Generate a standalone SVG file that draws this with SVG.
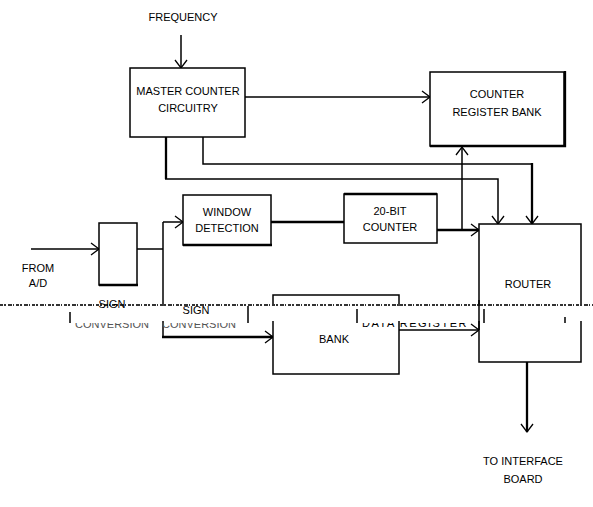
<svg xmlns="http://www.w3.org/2000/svg" width="593" height="507" viewBox="0 0 593 507">
<style>
.box{fill:#fff;stroke:#000;stroke-width:1.5}
.t{font-family:"Liberation Sans",Arial,sans-serif;font-size:11px;fill:#000;text-anchor:middle}
.c{fill:none;stroke:#000;stroke-width:1.5}
.k{fill:none;stroke:#000;stroke-width:2.3}
.g{font-family:"Liberation Sans",Arial,sans-serif;font-size:11px;fill:#555;text-anchor:middle}
</style>
<defs>
<marker id="a" markerUnits="userSpaceOnUse" markerWidth="14" markerHeight="14" refX="11" refY="7" orient="auto" viewBox="0 0 14 14">
<path d="M3,1 L11,7 L3,13" fill="none" stroke="#000" stroke-width="1.3"/>
</marker>
<clipPath id="lo"><rect x="0" y="323" width="593" height="20"/></clipPath>
</defs>
<rect width="593" height="507" fill="#fff"/>
<text class="t" x="183" y="21">FREQUENCY</text>
<g id="connectors">
<path class="c" d="M181,35 V68" marker-end="url(#a)"/>
<path class="c" d="M245,97 H430" marker-end="url(#a)"/>
<path class="c" d="M203,137 V164 H532"/>
<path class="k" d="M532,163 V224" marker-end="url(#a)"/>
<path class="k" d="M166,137 V179"/>
<path class="c" d="M165,179 H498 V224" marker-end="url(#a)"/>
<path class="c" d="M31,249 H99" marker-end="url(#a)"/>
<path class="c" d="M137,249 H163"/>
<path class="c" d="M163,222 V337"/>
<path class="c" d="M163,222 H183" marker-end="url(#a)"/>
<path class="k" d="M162,337 H273" marker-end="url(#a)"/>
<path class="k" d="M271,222 H344"/>
<path class="k" d="M437,230 H479" marker-end="url(#a)"/>
<path class="c" d="M462,230 V147" marker-end="url(#a)"/>
<path class="c" d="M399,330 H479" marker-end="url(#a)"/>
<path class="k" d="M527,362 V432" marker-end="url(#a)"/>
</g>
<g id="master">
<rect class="box" x="130" y="68" width="115" height="69"/>
<text class="t" x="188" y="95">MASTER COUNTER</text>
<text class="t" x="188" y="112">CIRCUITRY</text>
</g>
<g id="crb">
<rect class="box" x="430" y="72" width="134" height="74"/>
<path class="k" d="M430,146 H565 V71"/>
<text class="t" x="497" y="98">COUNTER</text>
<text class="t" x="497" y="116">REGISTER BANK</text>
</g>
<g id="window">
<rect class="box" x="183" y="195" width="88" height="50"/>
<path class="k" d="M183,245 H272"/>
<text class="t" x="227" y="216">WINDOW</text>
<text class="t" x="227" y="232">DETECTION</text>
</g>
<g id="counter20">
<rect class="box" x="344" y="194" width="93" height="49"/>
<path class="k" d="M344,194 H437"/>
<text class="t" x="390" y="215">20-BIT</text>
<text class="t" x="390" y="231">COUNTER</text>
</g>
<g id="small">
<rect class="box" x="99" y="223" width="38" height="62"/>
<path class="k" d="M99,285 H138"/>
</g>
<text class="t" x="38" y="272">FROM</text>
<text class="t" x="38" y="287">A/D</text>
<g id="router">
<rect class="box" x="479" y="224" width="102" height="138"/>
<text class="t" x="528" y="288">ROUTER</text>
</g>
<g id="databank">
<rect class="box" x="273" y="295" width="126" height="79"/>
<text class="t" x="334" y="343">BANK</text>
</g>
<text class="t" x="523" y="465">TO INTERFACE</text>
<text class="t" x="523" y="483">BOARD</text>
<g id="glitch">
<rect x="0" y="306" width="593" height="15" fill="#fff"/>
<rect x="0" y="298" width="162" height="23" fill="#fff"/>
<rect x="164" y="306" width="108" height="15" fill="#fff"/>
<path class="c" d="M479,300 V330"/>
<path class="c" d="M70,312 V323 M248,306 V323 M357,309 V323 M565,317 V323 M484,309 V323"/>
<path d="M0,305 H593" stroke="#333" stroke-width="2" stroke-dasharray="3 1 2 2 4 1 1 2" fill="none"/>
<text class="t" x="112" y="308">SIGN</text>
<text class="t" x="196" y="314">SIGN</text>
<g clip-path="url(#lo)">
<text class="g" x="112" y="328">CONVERSION</text>
<text class="g" x="199" y="328">CONVERSION</text>
<text class="t" x="415" y="327" letter-spacing="1.5">DATA REGISTER</text>
</g>
</g>
</svg>
